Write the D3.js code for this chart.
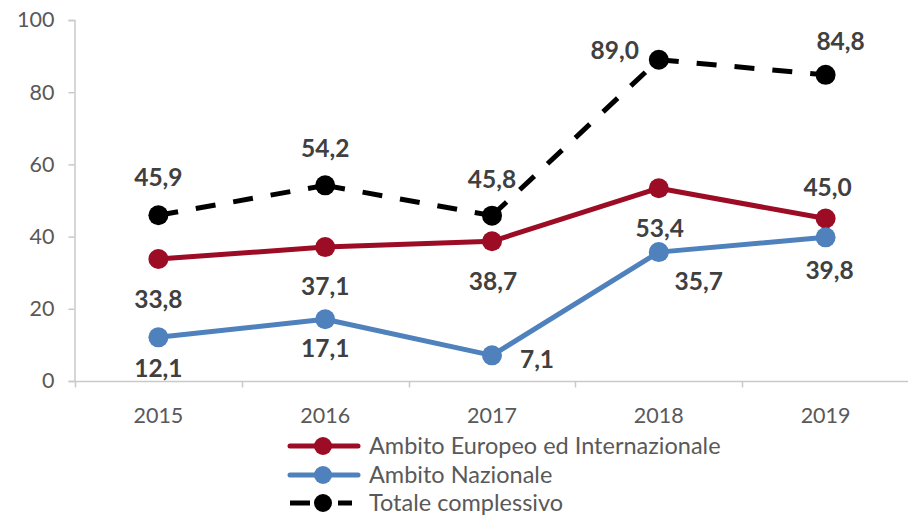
<!DOCTYPE html>
<html>
<head>
<meta charset="utf-8">
<script src="https://cdn.jsdelivr.net/npm/d3@7"></script>
<style>
  body { margin: 0; background: #fff; }
  text { font-family: Lato, "Open Sans", sans-serif; }
</style>
</head>
<body>
<div id="chart"></div>
<script>
var years = ['2015', '2016', '2017', '2018', '2019'];
var europeo = [33.8, 37.1, 38.7, 53.4, 45.0];
var nazionale = [12.1, 17.1, 7.1, 35.7, 39.8];
var totale = [45.9, 54.2, 45.8, 89.0, 84.8];
var yTicks = [0, 20, 40, 60, 80, 100];
var seriesNames = ['Ambito Europeo ed Internazionale', 'Ambito Nazionale', 'Totale complessivo'];

// label offsets from each point (dx, dy to text baseline)
var europeoLab = [[0, 49], [0, 48], [1, 49], [1, 49], [2, -23]];
var nazionaleLab = [[0, 40], [0, 38], [45, 13], [40, 38], [4, 42]];
var totaleLab = [[0, -29], [0, -28], [0, -28], [-44, -1], [15, -25]];

var width = 908, height = 517;

var svg = d3.select('#chart')
    .append('svg')
    .attr('width', width)
    .attr('height', height);

var x = d3.scaleBand().domain(years).range([75, 909]);
var y = d3.scaleLinear().domain([0, 100]).range([381, 20]);

var axisColor = '#c9c9c9';

// y axis
var yAxis = svg.append('g')
    .attr('transform', 'translate(74.5,0)')
    .call(d3.axisLeft(y).tickValues(yTicks).tickSize(6).tickPadding(14).tickFormat(d3.format('d')));
yAxis.select('.domain').attr('stroke', axisColor).attr('stroke-width', 1.5);
yAxis.selectAll('.tick line').attr('stroke', axisColor).attr('stroke-width', 1.5);
yAxis.selectAll('.tick text')
    .attr('fill', '#595959')
    .style('font-size', '21.5px')
    .style('font-family', 'Lato, sans-serif');

// x axis with ticks between categories
var xAxis = svg.append('g').attr('transform', 'translate(0,381.5)');
xAxis.append('line')
    .attr('x1', 74).attr('x2', 908)
    .attr('stroke', axisColor).attr('stroke-width', 1.5);
var bounds = years.map(d => x(d)).concat([x(years[years.length - 1]) + x.bandwidth()]);
xAxis.selectAll('.xt')
    .data(bounds)
    .enter().append('line')
    .attr('class', 'xt')
    .attr('x1', d => Math.round(d) + 0.5).attr('x2', d => Math.round(d) + 0.5)
    .attr('y1', 0).attr('y2', 6)
    .attr('stroke', axisColor).attr('stroke-width', 1.5);
xAxis.selectAll('.xl')
    .data(years)
    .enter().append('text')
    .attr('class', 'xl')
    .attr('x', d => x(d) + x.bandwidth() / 2)
    .attr('y', 41)
    .attr('text-anchor', 'middle')
    .attr('fill', '#595959')
    .style('font-size', '21.5px')
    .text(d => d);

var cx = d => x(d) + x.bandwidth() / 2;

var series = [
    { name: seriesNames[0], values: europeo, labs: europeoLab, color: '#9c0c24', dash: null },
    { name: seriesNames[1], values: nazionale, labs: nazionaleLab, color: '#4f81bd', dash: null },
    { name: seriesNames[2], values: totale, labs: totaleLab, color: '#000000', dash: '20,18' }
];

var fmt = v => v.toFixed(1).replace('.', ',');

series.forEach(function (s) {
    var pts = s.values.map((v, i) => [cx(years[i]), y(v)]);
    var g = svg.append('g');
    if (s.dash) {
        // dash pattern restarts on every segment
        g.selectAll('line')
            .data(d3.pairs(pts))
            .enter().append('line')
            .attr('x1', d => d[0][0]).attr('y1', d => d[0][1])
            .attr('x2', d => d[1][0]).attr('y2', d => d[1][1])
            .attr('stroke', s.color)
            .attr('stroke-width', 5)
            .attr('stroke-dasharray', s.dash);
    } else {
        g.append('path')
            .datum(pts)
            .attr('d', d3.line())
            .attr('fill', 'none')
            .attr('stroke', s.color)
            .attr('stroke-width', 5)
            .attr('stroke-linejoin', 'round');
    }
    g.selectAll('circle')
        .data(pts)
        .enter().append('circle')
        .attr('cx', d => d[0]).attr('cy', d => d[1])
        .attr('r', 10)
        .attr('fill', s.color);
    g.selectAll('text')
        .data(s.values)
        .enter().append('text')
        .attr('x', (d, i) => pts[i][0] + s.labs[i][0])
        .attr('y', (d, i) => pts[i][1] + s.labs[i][1])
        .attr('text-anchor', 'middle')
        .attr('fill', '#404040')
        .style('font-size', '24.5px')
        .style('font-weight', 'bold')
        .text(fmt);
});

// legend
var legend = svg.append('g').attr('transform', 'translate(290,0)');
var rowY = [446, 475, 503];
series.forEach(function (s, i) {
    var row = legend.append('g').attr('transform', `translate(0,${rowY[i]})`);
    if (s.dash) {
        row.append('line').attr('x1', 0).attr('x2', 62)
            .attr('stroke', s.color).attr('stroke-width', 5)
            .attr('stroke-dasharray', '20,28,14');
    } else {
        row.append('line').attr('x1', 0).attr('x2', 68)
            .attr('stroke', s.color).attr('stroke-width', 5)
            .attr('stroke-linecap', 'round');
    }
    row.append('circle').attr('cx', 33).attr('r', 9).attr('fill', s.color);
    row.append('text')
        .attr('x', 79)
        .attr('y', 8)
        .attr('fill', '#595959')
        .style('font-size', '23.5px')
        .text(s.name);
});
</script>
</body>
</html>
